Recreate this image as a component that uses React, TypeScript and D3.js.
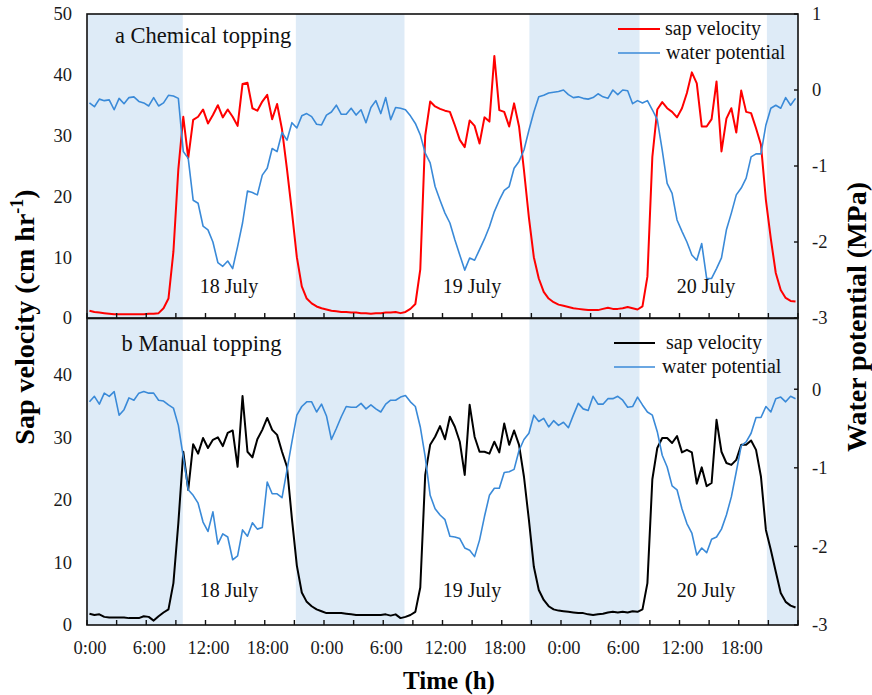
import { useEffect, useRef } from 'react';
import * as d3 from 'd3';

// half-hourly readings, first one at 0:15 on 18 July (hours from 0:00)
const START_H = 0.25;
const STEP_H = 0.5;

// a: chemical topping, sap velocity (cm hr-1)
const chemSap = [
  1.2, 1.0, 0.9, 0.8, 0.7, 0.6, 0.6, 0.6, 0.6, 0.6, 0.6, 0.6, 0.7, 0.7, 0.8, 1.6, 3.2, 10.9, 24.5,
  33.1, 26.3, 32.6, 33.1, 34.3, 32.0, 33.4, 35.0, 33.0, 34.3, 33.1, 31.6, 38.5, 38.7, 34.5, 34.1, 35.6, 36.7, 32.7, 35.2,
  31.0, 24.5, 17.5, 10.0, 5.2, 3.2, 2.4, 1.9, 1.6, 1.4,
  1.2, 1.1, 1.0, 1.0, 0.9, 0.9, 0.8, 0.8, 0.7, 0.8, 0.8, 0.9, 0.9, 1.0, 0.8, 1.0, 1.5, 2.3,
  8.0, 30.0, 35.6, 34.8, 34.4, 34.1, 33.9, 31.7, 29.3, 28.1, 32.5, 31.6, 28.7, 33.0, 32.3, 43.1, 34.2, 33.9, 31.5, 35.3, 31.5, 24.3, 16.5, 10.0, 6.5,
  4.3, 3.2, 2.6, 2.2, 2.0, 1.8, 1.6, 1.5, 1.4, 1.3, 1.3, 1.3, 1.5, 1.7, 1.5, 1.5, 1.6, 1.8, 1.6, 1.4,
  1.9, 6.8, 26.5, 34.3, 35.5, 34.5, 33.9, 33.0, 34.5, 37.0, 40.4, 38.6, 31.5, 31.5, 32.7, 38.9, 27.4, 32.8, 34.5, 30.5,
  37.4, 33.9, 33.7, 31.2, 28.5, 19.4, 13.0, 7.4, 4.6, 3.3, 2.8, 2.7,
];

// a: chemical topping, water potential (MPa)
const chemWP = [
  -0.17, -0.22, -0.12, -0.14, -0.13, -0.26, -0.11, -0.18, -0.10, -0.09, -0.15, -0.17, -0.21, -0.10, -0.21, -0.17, -0.07, -0.08, -0.11,
  -0.81, -0.90, -1.45, -1.49, -1.79, -1.84, -2.00, -2.27, -2.32, -2.25, -2.35, -2.06, -1.75, -1.33, -1.35, -1.38, -1.12, -1.03, -0.77, -0.81,
  -0.56, -0.66, -0.43, -0.50, -0.34, -0.31,
  -0.35, -0.45, -0.46, -0.33, -0.29, -0.20, -0.32, -0.32, -0.24, -0.33, -0.26, -0.43, -0.23, -0.14, -0.31, -0.10, -0.39, -0.23, -0.24, -0.26, -0.34, -0.44,
  -0.59, -0.83, -0.96, -1.27, -1.45, -1.62, -1.75, -1.97, -2.17, -2.37, -2.21, -2.24, -2.10, -1.96, -1.80, -1.60, -1.45, -1.32, -1.27, -1.03, -0.94, -0.79, -0.53, -0.29, -0.09,
  -0.07, -0.04, -0.03, -0.02, 0.0, -0.06, -0.10, -0.09, -0.11, -0.12, -0.10, -0.05, -0.09, -0.11, 0.0, -0.06, 0.0, -0.01, -0.18, -0.14,
  -0.17, -0.14, -0.26, -0.39, -0.79, -1.23, -1.36, -1.71, -1.86, -2.00, -2.17, -2.24, -2.02, -2.48, -2.48, -2.35, -2.21, -1.84, -1.62, -1.38,
  -1.29, -1.16, -0.88, -0.84, -0.84, -0.46, -0.24, -0.20, -0.24, -0.10, -0.20, -0.11,
];

// b: manual topping, sap velocity (cm hr-1)
const manSap = [
  1.8, 1.6, 1.7, 1.3, 1.2, 1.2, 1.2, 1.2, 1.1, 1.1, 1.1, 1.4, 1.3, 0.7, 1.4, 2.0, 2.5, 6.7, 16.3,
  27.7, 21.6, 28.9, 27.4, 29.9, 28.3, 29.6, 30.0, 28.6, 30.7, 31.1, 25.3, 36.6, 27.7, 26.8, 29.7, 31.2, 33.1, 31.2, 30.4, 27.7, 25.3,
  17.0, 9.5, 5.2, 3.7, 3.0, 2.5, 2.2, 1.9, 1.9, 1.9, 1.9, 1.8, 1.7, 1.6, 1.6, 1.6, 1.6, 1.6, 1.6, 1.7, 1.5, 1.7, 1.1, 1.3, 1.6, 2.1,
  6.0, 24.0, 28.8, 30.1, 31.8, 29.7, 33.3, 31.7, 29.3, 24.0, 35.2, 30.1, 27.7, 27.7, 27.4, 29.3, 27.6, 32.2, 28.8, 31.1, 28.8, 23.7, 16.8, 9.3, 5.6,
  4.0, 3.0, 2.5, 2.3, 2.2, 2.1, 2.0, 1.9, 1.9, 1.7, 1.6, 1.7, 1.8, 2.0, 2.1, 2.0, 2.1, 2.0, 2.2, 2.1,
  2.5, 6.7, 23.3, 28.3, 29.9, 29.9, 29.1, 30.2, 27.6, 28.0, 27.6, 22.6, 25.2, 22.2, 22.7, 32.8, 27.7, 25.9, 25.6, 26.4,
  28.8, 28.8, 29.5, 28.0, 23.7, 15.2, 12.0, 8.5, 5.1, 3.7, 3.1, 2.8,
];

// b: manual topping, water potential (MPa)
const manWP = [
  -0.16, -0.09, -0.19, -0.05, -0.09, -0.03, -0.33, -0.26, -0.11, -0.14, -0.05, -0.03, -0.05, -0.05, -0.14, -0.15, -0.20, -0.24, -0.46,
  -0.86, -1.28, -1.35, -1.45, -1.69, -1.81, -1.56, -1.97, -1.84, -1.88, -2.17, -2.12, -1.79, -1.87, -1.70, -1.78, -1.76, -1.18, -1.33, -1.33,
  -1.38, -1.03, -0.67, -0.33, -0.22, -0.16,
  -0.16, -0.29, -0.19, -0.34, -0.64, -0.50, -0.35, -0.22, -0.23, -0.23, -0.18, -0.25, -0.20, -0.25, -0.29, -0.19, -0.14, -0.14, -0.10, -0.08, -0.16, -0.22,
  -0.48, -0.86, -1.35, -1.52, -1.60, -1.66, -1.87, -1.88, -1.90, -2.02, -2.05, -2.13, -1.92, -1.62, -1.35, -1.26, -1.26, -1.06, -1.05, -1.02, -0.78, -0.64, -0.56, -0.33, -0.41,
  -0.37, -0.48, -0.40, -0.46, -0.42, -0.49, -0.33, -0.18, -0.25, -0.27, -0.09, -0.19, -0.19, -0.12, -0.12, -0.09, -0.14, -0.23, -0.22, -0.10,
  -0.20, -0.29, -0.33, -0.54, -0.84, -0.99, -1.23, -1.28, -1.52, -1.71, -1.83, -2.11, -2.02, -2.08, -1.91, -1.88, -1.78, -1.60, -1.37, -1.05,
  -0.72, -0.67, -0.56, -0.36, -0.36, -0.22, -0.29, -0.12, -0.10, -0.16, -0.09, -0.12,
];

// dark periods (hours), shaded
const nights: [number, number][] = [[0, 9.7], [21.15, 32.15], [44.8, 55.95], [68.85, 72]];

const xTickHours = [0, 3, 6, 9, 12, 15, 18, 21, 24, 27, 30, 33, 36, 39, 42, 45, 48, 51, 54, 57, 60, 63, 66, 69, 72];
const xLabelHours = [0, 6, 12, 18, 24, 30, 36, 42, 48, 54, 60, 66];
const xLabels = ['0:00', '6:00', '12:00', '18:00', '0:00', '6:00', '12:00', '18:00', '0:00', '6:00', '12:00', '18:00'];

const days = ['18 July', '19 July', '20 July'];

const W = 872, H = 695;
const FONT = "'Liberation Serif', 'Times New Roman', serif";

export default function App() {
  const svgRef = useRef<SVGSVGElement>(null);

  useEffect(() => {
    const svg = d3.select(svgRef.current);
    svg.selectAll('*').remove();

    const left = 87, right = 798;
    const x = d3.scaleLinear().domain([0, 72]).range([left, right]);
    const hours = chemSap.map((_, i) => START_H + i * STEP_H);

    const panels = [
      {
        title: 'a Chemical topping', sap: chemSap, wp: chemWP, color: '#ff0000',
        y0: 14, y1: 318, sapMax: 50, wpMax: 1,
        sapTicks: [0, 10, 20, 30, 40, 50], wpTicks: [-3, -2, -1, 0, 1],
        titleY: 43, dayY: 293, legY: 29, legX1: 618, legX2: 660, legTx: [665, 666],
      },
      {
        title: 'b Manual topping', sap: manSap, wp: manWP, color: '#000000',
        y0: 318.5, y1: 625, sapMax: 49, wpMax: 0.9,
        sapTicks: [0, 10, 20, 30, 40], wpTicks: [-3, -2, -1, 0],
        titleY: 351, dayY: 597, legY: 343, legX1: 614, legX2: 655, legTx: [666, 662],
      },
    ];

    const dayX = [229, 472, 706].map(px => x.invert(px));

    panels.forEach((p, pi) => {
      const yL = d3.scaleLinear().domain([0, p.sapMax]).range([p.y1, p.y0]);
      const yR = d3.scaleLinear().domain([-3, p.wpMax]).range([p.y1, p.y0]);
      const g = svg.append('g');

      // night shading
      g.selectAll('rect.night').data(nights).join('rect')
        .attr('class', 'night')
        .attr('x', d => x(d[0])).attr('width', d => x(d[1]) - x(d[0]))
        .attr('y', p.y0).attr('height', p.y1 - p.y0)
        .attr('fill', '#deebf7');

      const sapLine = d3.line<number>().x((_, i) => x(hours[i])).y(d => yL(d));
      const wpLine = d3.line<number>().x((_, i) => x(hours[i])).y(d => yR(d));

      g.append('path').datum(p.sap).attr('d', sapLine)
        .attr('fill', 'none').attr('stroke', p.color).attr('stroke-width', 2)
        .attr('stroke-linejoin', 'round');
      g.append('path').datum(p.wp).attr('d', wpLine)
        .attr('fill', 'none').attr('stroke', '#3a8ad8').attr('stroke-width', 1.6)
        .attr('stroke-linejoin', 'round');

      // frame
      g.append('rect').attr('x', left).attr('y', p.y0)
        .attr('width', right - left).attr('height', p.y1 - p.y0)
        .attr('fill', 'none').attr('stroke', '#111').attr('stroke-width', 1.6);

      // x ticks (inside, pointing up)
      g.selectAll('line.xt').data(xTickHours).join('line')
        .attr('class', 'xt')
        .attr('x1', d => x(d)).attr('x2', d => x(d))
        .attr('y1', p.y1).attr('y2', p.y1 - 5)
        .attr('stroke', '#111').attr('stroke-width', 1.4);

      // right ticks
      g.selectAll('line.rt').data(p.wpTicks).join('line')
        .attr('class', 'rt')
        .attr('x1', right).attr('x2', right - 4)
        .attr('y1', d => yR(d)).attr('y2', d => yR(d))
        .attr('stroke', '#111').attr('stroke-width', 1.4);

      // left tick labels
      g.selectAll('text.yl').data(p.sapTicks).join('text')
        .attr('class', 'yl')
        .attr('x', 72).attr('y', d => yL(d)).attr('dy', '0.35em')
        .attr('text-anchor', 'end').attr('font-size', 18.5).attr('font-family', FONT)
        .attr('fill', '#1a1a1a')
        .text(d => String(d));

      // right tick labels
      g.selectAll('text.yr').data(p.wpTicks).join('text')
        .attr('class', 'yr')
        .attr('x', 812).attr('y', d => yR(d)).attr('dy', '0.35em')
        .attr('font-size', 18.5).attr('font-family', FONT)
        .attr('fill', '#1a1a1a')
        .text(d => String(d));

      // panel title
      g.append('text').attr('x', pi === 0 ? 115 : 121.5).attr('y', p.titleY)
        .attr('font-size', 22.5).attr('font-family', FONT).attr('fill', '#111')
        .text(p.title);

      // day labels
      g.selectAll('text.day').data(days).join('text')
        .attr('class', 'day')
        .attr('x', (_, i) => x(dayX[i])).attr('y', p.dayY)
        .attr('text-anchor', 'middle').attr('font-size', 20).attr('font-family', FONT)
        .attr('fill', '#111')
        .text(d => d);

      // legend
      const leg = [
        { label: 'sap velocity', color: p.color },
        { label: 'water potential', color: '#3a8ad8' },
      ];
      leg.forEach((l, i) => {
        const ly = p.legY + i * 24;
        g.append('line').attr('x1', p.legX1).attr('x2', p.legX2)
          .attr('y1', ly).attr('y2', ly)
          .attr('stroke', l.color).attr('stroke-width', i === 0 ? 2 : 1.6);
        g.append('text').attr('x', p.legTx[i]).attr('y', ly + 6)
          .attr('font-size', 20).attr('font-family', FONT).attr('fill', '#111')
          .text(l.label);
      });
    });

    // x tick labels
    svg.selectAll('text.xl').data(xLabelHours).join('text')
      .attr('class', 'xl')
      .attr('x', d => x(d) + 3).attr('y', 654)
      .attr('text-anchor', 'middle').attr('font-size', 18.5).attr('font-family', FONT)
      .attr('fill', '#1a1a1a')
      .text((_, i) => xLabels[i]);

    // axis titles
    svg.append('text').attr('x', 449).attr('y', 689)
      .attr('text-anchor', 'middle').attr('font-size', 25).attr('font-weight', 'bold')
      .attr('font-family', FONT).attr('fill', '#000')
      .text('Time (h)');

    const lt = svg.append('text')
      .attr('transform', 'translate(34,317) rotate(-90)')
      .attr('text-anchor', 'middle').attr('font-size', 28).attr('font-weight', 'bold')
      .attr('font-family', FONT).attr('fill', '#000');
    lt.append('tspan').text('Sap velocity (cm hr');
    lt.append('tspan').attr('dy', -11).attr('font-size', 18).text('-1');
    lt.append('tspan').attr('dy', 11).text(')');

    svg.append('text')
      .attr('transform', 'translate(866,317) rotate(-90)')
      .attr('text-anchor', 'middle').attr('font-size', 28).attr('font-weight', 'bold')
      .attr('font-family', FONT).attr('fill', '#000')
      .text('Water potential (MPa)');
  }, []);

  return (
    <svg
      ref={svgRef}
      width={W}
      height={H}
      style={{ position: 'absolute', left: 0, top: 0, background: '#fff' }}
    />
  );
}
